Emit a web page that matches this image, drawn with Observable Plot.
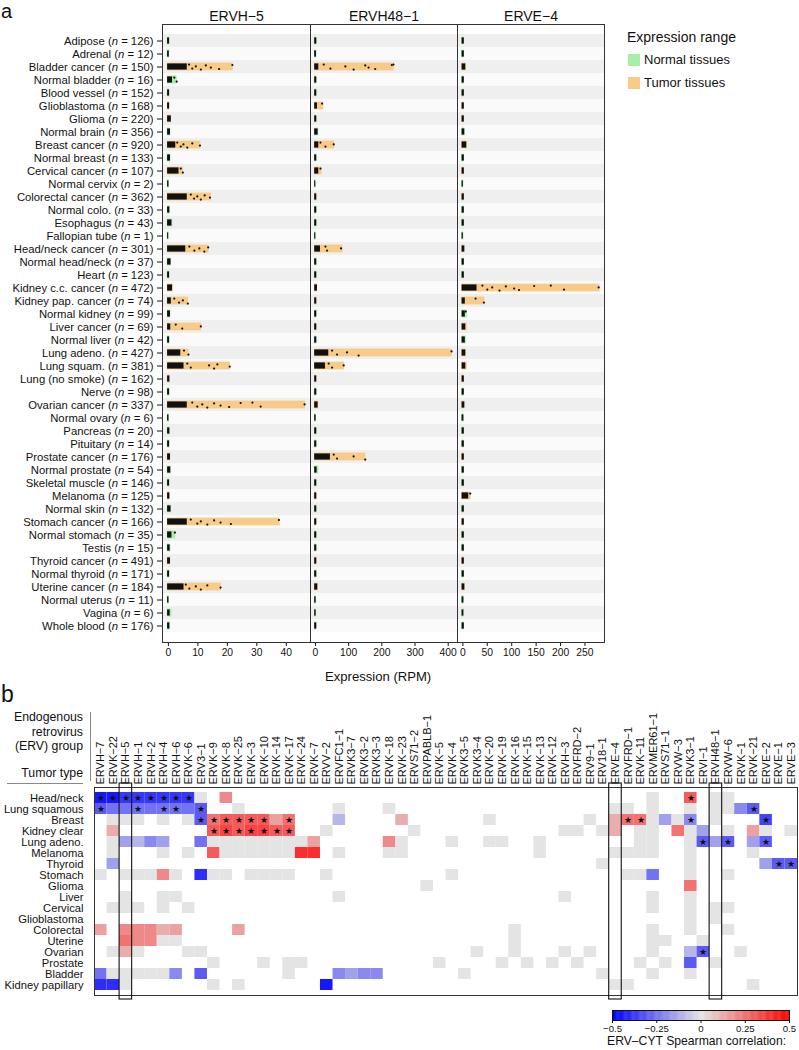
<!DOCTYPE html>
<html><head><meta charset="utf-8">
<script src="https://cdn.jsdelivr.net/npm/d3@7"></script>
<script src="https://cdn.jsdelivr.net/npm/@observablehq/plot@0.6"></script>
<style>
body{margin:0;background:#fff;font-family:"Liberation Sans",Arial,sans-serif;color:#111;}
#root{position:relative;width:799px;height:1050px;overflow:hidden;}
.abs{position:absolute;white-space:nowrap;}
.vc{transform:translateY(-50%);}
</style></head><body><div id="root"></div>
<script>
// ---------------- Panel a data ----------------
const tissues = ["Adipose","Adrenal","Bladder cancer","Normal bladder","Blood vessel","Glioblastoma","Glioma","Normal brain","Breast cancer","Normal breast","Cervical cancer","Normal cervix","Colorectal cancer","Normal colo.","Esophagus","Fallopian tube","Head/neck cancer","Normal head/neck","Heart","Kidney c.c. cancer","Kidney pap. cancer","Normal kidney","Liver cancer","Normal liver","Lung adeno.","Lung squam.","Lung (no smoke)","Nerve","Ovarian cancer","Normal ovary","Pancreas","Pituitary","Prostate cancer","Normal prostate","Skeletal muscle","Melanoma","Normal skin","Stomach cancer","Normal stomach","Testis","Thyroid cancer","Normal thyroid","Uterine cancer","Normal uterus","Vagina","Whole blood"];
const nSamples = [126,12,150,16,152,168,220,356,920,133,107,2,362,33,43,1,301,37,123,472,74,99,69,42,427,381,162,98,337,6,20,14,176,54,146,125,132,166,35,15,491,171,184,11,6,176];
const tumorTissues = ["Bladder cancer","Glioblastoma","Glioma","Breast cancer","Cervical cancer","Colorectal cancer","Head/neck cancer","Kidney c.c. cancer","Kidney pap. cancer","Liver cancer","Lung adeno.","Lung squam.","Lung (no smoke)","Ovarian cancer","Prostate cancer","Melanoma","Stomach cancer","Thyroid cancer","Uterine cancer"];

// ERVH-5 (RPM): range maximum, extent of the dense sample cluster, individual high samples
const ervh5Max  = [0.5,0.4,22,3,0.5,0.5,1.0,0.8,11,0.8,5.1,0.3,14.6,0.6,1.5,0.2,13.8,1.0,0.5,1.7,6.8,0.8,11.3,0.5,7,21,0.6,0.5,46.5,0.3,0.6,0.5,0.8,1.0,0.5,0.6,1.0,37.9,2.5,0.8,0.8,0.5,18,0.3,1.2,0.6];
const ervh5Bulk = [0.4,0.3,6.4,1.4,0.4,0.4,1.0,0.7,2.5,0.7,3.6,0.2,6.4,0.5,1.2,0.1,5.9,0.9,0.4,1.4,1.0,0.7,0.8,0.4,4.2,5.3,0.5,0.4,6.4,0.2,0.5,0.4,0.7,0.8,0.4,0.5,0.9,6.4,1.2,0.6,0.7,0.4,5.3,0.2,0.6,0.5];
const ervh5Dots = {
  "Bladder cancer":[7,8.1,9.3,11,12.7,14.4,17.2,21.7],
  "Normal bladder":[2,2.8],
  "Breast cancer":[3,4.2,5.1,6.4,8.1,10.7],
  "Cervical cancer":[4.2,4.9],
  "Colorectal cancer":[7.6,8.7,9.8,11,12.3,14.1],
  "Head/neck cancer":[7.1,8.8,10.5,12.2,13.5],
  "Kidney pap. cancer":[2,3.6,4.9,6.6],
  "Liver cancer":[2.5,4.7,11],
  "Lung adeno.":[5.3,6.8],
  "Lung squam.":[6.4,7.6,13.8,15.5,16.6,20.8],
  "Ovarian cancer":[8.1,9.8,11.5,13.2,15.5,17.7,20.6,24.5,28.5,31.3,46.2],
  "Stomach cancer":[7.6,9.8,11,13.2,15.5,17.7,21.2,37.5],
  "Normal stomach":[2.2],
  "Uterine cancer":[5.9,7.1,9.3,11,13.2,17.7]
};
// ERVH48-1
const ervh48Max  = [5,4,237,4,4,25,4,10,58,4,20,2,4,4,4,2,83,4,4,6,4,4,4,4,412,88,4,4,10,3,4,4,152,10,4,4,4,4,4,4,4,4,8,3,3,4];
const ervh48Bulk = [4,3,10,4,4,6,4,8,10,4,10,1,4,4,4,1,15,4,4,6,4,4,4,4,40,30,4,4,8,2,4,4,45,5,4,4,4,4,4,4,4,4,7,2,2,4];
const ervh48Dots = {
  "Bladder cancer":[25,45,90,115,150,160,180,230,235],
  "Glioblastoma":[20],
  "Breast cancer":[15,30,55],
  "Cervical cancer":[15],
  "Head/neck cancer":[30,35,77],
  "Lung adeno.":[50,65,95,130,410],
  "Lung squam.":[40,50,85],
  "Prostate cancer":[55,65,115,150]
};
// ERVE-4
const erve4Max  = [3,3,7,3,3,3,3,4,9,3,3,2,3,3,3,2,4,3,3,281,45,9,9,7,7,9,3,3,4,3,3,3,3,3,3,17,3,3,3,3,3,3,5,3,3,3];
const erve4Bulk = [3,3,6,3,3,3,3,4,8,3,3,1,3,3,3,1,4,3,3,29,5,5,6,5,6,6,3,3,4,2,3,3,3,3,3,12,3,3,3,3,3,3,4,2,2,3];
const erve4Dots = {
  "Kidney c.c. cancer":[40,50,60,75,88,105,115,146,180,207,278],
  "Kidney pap. cancer":[26,43],
  "Normal kidney":[6],
  "Melanoma":[15]
};
const ticks1 = [0,10,20,30,40];
const ticks2 = [0,100,200,300,400];
const ticks3 = [0,50,100,150,200,250];

// ---------------- Panel b data ----------------
const ervs = ["ERVH-7","ERVK-22","ERVH-5","ERVH-1","ERVH-2","ERVH-4","ERVH-6","ERVK-6","ERV3-1","ERVK-9","ERVK-8","ERVK-25","ERVK-3","ERVK-10","ERVK-14","ERVK-17","ERVK-24","ERVK-7","ERVV-2","ERVFC1-1","ERVK3-7","ERVK3-2","ERVK3-3","ERVK-18","ERVK-23","ERVS71-2","ERVPABLB-1","ERVK-5","ERVK-4","ERVK3-5","ERVK3-4","ERVK-20","ERVK-19","ERVK-16","ERVK-15","ERVK-13","ERVK-12","ERVH-3","ERVFRD-2","ERV9-1","ERV18-1","ERVE-4","ERVFRD-1","ERVK-11","ERVMER61-1","ERVS71-1","ERVW-3","ERVK3-1","ERVI-1","ERVH48-1","ERVW-6","ERVK-1","ERVK-21","ERVE-2","ERVE-1","ERVE-3"];
const tumorTypes = ["Head/neck","Lung squamous","Breast","Kidney clear","Lung adeno.","Melanoma","Thyroid","Stomach","Glioma","Liver","Cervical","Glioblastoma","Colorectal","Uterine","Ovarian","Prostate","Bladder","Kidney papillary"];
const highlighted = ["ERVH-5","ERVE-4","ERVH48-1"];
// per tumor type: [ERV index, Spearman rho, significant]
const corrRows = [
  [[0,-0.45,1],[1,-0.45,1],[2,-0.38,1],[3,-0.38,1],[4,-0.38,1],[5,-0.38,1],[6,-0.38,1],[7,-0.38,1],[8,0],[10,0.2],[44,0],[47,0.3,1],[49,0],[50,0]],
  [[0,-0.3,1],[1,-0.25],[2,-0.25],[3,-0.25,1],[4,-0.25],[5,-0.25,1],[6,-0.25,1],[7,-0.25],[8,-0.3,1],[11,0],[19,0],[23,0],[41,0],[42,0],[44,0],[47,0],[49,0],[50,0],[51,-0.2],[52,-0.3,1]],
  [[1,0],[2,0],[3,0],[5,0],[7,0],[8,-0.3,1],[9,0.25,1],[10,0.3,1],[11,0.3,1],[12,0.3,1],[13,0.3,1],[14,0.15],[15,0.25,1],[19,-0.1],[24,0.12],[31,0],[39,0],[41,0.12],[42,0.25,1],[43,0.25,1],[44,0],[45,-0.15],[46,0],[47,-0.2,1],[49,0],[53,-0.35,1]],
  [[1,0.12],[9,0.3,1],[10,0.35,1],[11,0.3,1],[12,0.35,1],[13,0.35,1],[14,0.3,1],[15,0.3,1],[18,0],[25,0],[37,0],[38,0],[40,0],[41,0.12],[43,0],[44,0],[46,0.25],[47,0],[48,-0.15],[50,0],[52,0.15],[53,0],[55,0]],
  [[1,0],[2,-0.15],[3,-0.1],[4,-0.2],[5,-0.15],[8,-0.25],[9,0],[10,0],[11,0],[12,0],[13,0],[14,0],[15,0],[16,0],[17,0.15],[23,0.2],[24,0],[28,0],[31,0],[32,0],[35,0],[43,0],[44,0],[47,0],[48,-0.3,1],[49,-0.15],[50,-0.3,1],[52,-0.15],[53,-0.3,1]],
  [[1,0],[5,0],[7,0],[9,0.3],[10,0],[11,0],[12,0],[13,0],[14,0],[15,0],[16,0.4],[17,0.4],[19,0],[23,0],[24,0],[35,0],[41,0],[42,0],[43,0],[44,0],[47,0],[52,0]],
  [[1,-0.15],[40,0],[47,0],[53,-0.15],[54,-0.3,1],[55,-0.3,1]],
  [[0,0],[2,0],[3,0],[4,0],[5,0.2],[6,0],[8,-0.4],[9,0],[10,0],[12,0],[13,0],[14,0],[15,0],[18,0],[28,0],[42,0],[43,0],[44,-0.25],[47,0],[50,0]],
  [[26,0],[47,0.25]],
  [[2,0],[5,0],[6,0],[19,0],[37,0],[44,0],[47,0]],
  [[1,0],[2,0],[3,0],[5,0],[7,0],[44,0],[47,0],[49,0],[50,0]],
  [[47,0],[49,0]],
  [[0,0.15],[2,0.2],[3,0.2],[4,0.2],[5,0.12],[6,0.15],[11,0.15],[33,0],[44,0],[47,0],[50,0]],
  [[2,0.25],[3,0.2],[4,0.2],[5,0],[6,0],[33,0],[44,0],[45,0],[48,0]],
  [[1,0],[2,0.12],[3,0],[7,0],[8,0],[30,0],[33,0],[37,0],[39,0],[44,0],[47,-0.1],[48,-0.3,1],[51,0]],
  [[9,0],[13,0],[15,0],[16,0],[27,0],[32,0],[34,0],[36,0],[38,0],[43,0],[45,0],[47,-0.3],[49,0]],
  [[0,-0.25],[1,0],[2,0],[3,0],[4,0],[5,0],[6,-0.2],[8,-0.3],[15,0],[19,-0.2],[20,-0.15],[21,-0.2],[22,-0.2],[29,0],[40,0],[44,0],[47,0]],
  [[0,-0.4],[1,-0.4],[2,0],[9,0],[11,0],[18,-0.45],[41,0],[42,0],[52,0]]
];
const colorTicks = [-0.5,-0.25,0,0.25,0.5];

// ---------------- helpers ----------------
const FONT = '"Liberation Sans", Arial, sans-serif';
const root = document.getElementById("root");
const minus = s => String(s).replace(/-/g, "\u2212");
function place(el, left, top) { el.style.position = "absolute"; el.style.left = left + "px"; el.style.top = top + "px"; root.appendChild(el); return el; }
function label(text, left, yc, size, opts = {}) {
  const d = document.createElement("div");
  d.className = "abs vc"; d.textContent = text;
  d.style.left = left + "px"; d.style.top = yc + "px"; d.style.fontSize = size + "px";
  d.style.lineHeight = "1.15";
  if (opts.width) { d.style.width = opts.width + "px"; d.style.textAlign = opts.align || "left"; }
  if (opts.weight) d.style.fontWeight = opts.weight;
  root.appendChild(d); return d;
}
function box(left, top, w, h, bg) { const d = document.createElement("div"); d.className = "abs"; Object.assign(d.style, {left: left+"px", top: top+"px", width: w+"px", height: h+"px", background: bg}); root.appendChild(d); return d; }

const rowLabels = tissues.map((t, i) => `${t} (n = ${nSamples[i]})`);
const ORANGE = "#f8cc88", GREEN = "#a4f0a8";
const jitter = [-2.4, 1.6, -0.6, 2.6, -1.6, 0.6, 2.0, -2.0];

function facet({title, maxV, bulkV, dots, domain, ticks, width, marginLeft, showY}) {
  const rows = tissues.map((t, i) => ({label: rowLabels[i], max: maxV[i], bulk: bulkV[i], tumor: tumorTissues.includes(t), i}));
  const dotData = [];
  Object.entries(dots).forEach(([name, vals]) => {
    const i = tissues.indexOf(name);
    vals.forEach((v, k) => dotData.push({label: rowLabels[i], v, k}));
  });
  const dotMarks = jitter.map((dy, j) => Plot.dot(dotData.filter(d => d.k % jitter.length === j), {x: "v", y: "label", r: 1.1, fill: "#111", stroke: "none", dy}));
  const svg = Plot.plot({
    width, height: 672, marginTop: 24, marginBottom: 30, marginLeft, marginRight: 1,
    style: {fontFamily: FONT, fontSize: "10.3px", color: "#111", background: "transparent"},
    x: {domain, ticks, tickSize: 4, tickPadding: 2, label: null},
    y: {domain: rowLabels, padding: 0, axis: showY ? "left" : null, tickSize: 5, tickPadding: 4, label: null},
    marks: [
      Plot.cell(rows.filter(d => d.i % 2 === 0), {y: "label", fill: "#efefef"}),
      Plot.cell(rows.filter(d => d.i % 2 === 1), {y: "label", fill: "#fafafa"}),
      Plot.barX(rows.filter(d => d.tumor), {y: "label", x1: 0, x2: "max", fill: ORANGE, insetTop: 2.6, insetBottom: 2.6, insetLeft: -1}),
      Plot.barX(rows.filter(d => !d.tumor), {y: "label", x1: 0, x2: "max", fill: GREEN, insetTop: 2.6, insetBottom: 2.6, insetLeft: -1}),
      Plot.barX(rows, {y: "label", x1: 0, x2: "bulk", fill: "#111", insetTop: 3.4, insetBottom: 3.4, insetLeft: -0.8}),
      ...dotMarks,
      Plot.frame({stroke: "#333"}),
      Plot.text([title], {frameAnchor: "top", dy: -13, text: d => minus(d), fontSize: 14})
    ]
  });
  svg.querySelectorAll("text").forEach(t => {
    const m = t.textContent.match(/^(.*\()n( = \d+\))$/);
    if (!m) return;
    t.textContent = "";
    t.setAttribute("font-size", "11.3");
    t.appendChild(document.createTextNode(m[1]));
    const ts = document.createElementNS("http://www.w3.org/2000/svg", "tspan");
    ts.setAttribute("font-style", "italic"); ts.textContent = "n";
    t.appendChild(ts);
    t.appendChild(document.createTextNode(m[2]));
  });
  return svg;
}

// ---------------- Panel a ----------------
place(facet({title: "ERVH-5", maxV: ervh5Max, bulkV: ervh5Bulk, dots: ervh5Dots, domain: [-2, 48.2], ticks: ticks1, width: 311, marginLeft: 162, showY: true}), 0, 0);
place(facet({title: "ERVH48-1", maxV: ervh48Max, bulkV: ervh48Bulk, dots: ervh48Dots, domain: [-15, 428], ticks: ticks2, width: 149, marginLeft: 1, showY: false}), 309, 0);
place(facet({title: "ERVE-4", maxV: erve4Max, bulkV: erve4Bulk, dots: erve4Dots, domain: [-11, 290], ticks: ticks3, width: 149, marginLeft: 1, showY: false}), 456, 0);

label("a", 1, 11, 20);
label("Expression (RPM)", 325, 677, 13.1);
label("Expression range", 627, 37, 14);
box(628, 54, 12, 12, GREEN); label("Normal tissues", 644, 60, 13);
box(628, 77, 12, 12, ORANGE); label("Tumor tissues", 644, 83, 13);

// ---------------- Panel b ----------------
const color = {type: "linear", domain: [-0.5, 0, 0.5], range: ["#0000ff", "#e4e4e4", "#ff0000"], interpolate: "rgb", clamp: true};
const heat = [];
corrRows.forEach((cells, r) => cells.forEach(([c, v, s]) => heat.push({tumor: tumorTypes[r], erv: ervs[c], v, sig: !!s})));

const heatSvg = Plot.plot({
  width: 799, height: 301, marginTop: 87, marginBottom: 6, marginLeft: 94, marginRight: 2,
  style: {fontFamily: FONT, fontSize: "11.2px", color: "#111", background: "transparent"},
  x: {domain: ervs, padding: 0, axis: "top", tickRotate: -90, tickSize: 0, tickPadding: 3, label: null, tickFormat: minus},
  y: {domain: tumorTypes, padding: 0, tickSize: 0, tickPadding: 11, label: null},
  color,
  marks: [
    Plot.cell(heat, {x: "erv", y: "tumor", fill: "v", inset: 0}),
    Plot.text(heat.filter(d => d.sig), {x: "erv", y: "tumor", text: () => "\u2605", fontSize: 9, fill: "#111"}),
    Plot.frame({stroke: "#333"}),
    Plot.cell(highlighted, {x: d => d, fill: "none", stroke: "#111", strokeWidth: 1.1, insetTop: -4, insetBottom: -4})
  ]
});
heatSvg.querySelectorAll("text").forEach(t => {
  if (ervs.map(minus).includes(t.textContent)) t.setAttribute("font-size", "11");
});
place(heatSvg, 0, 700);

label("b", 1, 694, 23);
label("Endogenous", 0, 717, 12.3, {width: 83, align: "right"});
label("retrovirus", 0, 731.5, 12.3, {width: 83, align: "right"});
label("(ERV) group", 0, 746, 12.3, {width: 83, align: "right"});
label("Tumor type", 0, 773, 12.3, {width: 83, align: "right"});
box(90, 712, 1, 69, "#888");
box(7, 783, 76, 1, "#888");

// colour bar
const ramp = d3.range(-0.5, 0.5, 0.005).map(v => ({v}));
const bar = Plot.plot({
  width: 195, height: 45, marginLeft: 10, marginRight: 8, marginTop: 10, marginBottom: 25,
  style: {fontFamily: FONT, fontSize: "9.6px", color: "#111", background: "transparent"},
  x: {domain: [-0.5, 0.5], ticks: colorTicks, tickSize: 3, tickPadding: 2, label: null, tickFormat: d => minus(d)},
  color,
  marks: [
    Plot.barX(ramp, {x1: "v", x2: d => d.v + 0.005, fill: "v", insetRight: -0.4}),
    Plot.frame({stroke: "#111"})
  ]
});
place(bar, 602, 1000);
label("ERV\u2013CYT Spearman correlation:", 607, 1041, 12.2);
</script></body></html>
